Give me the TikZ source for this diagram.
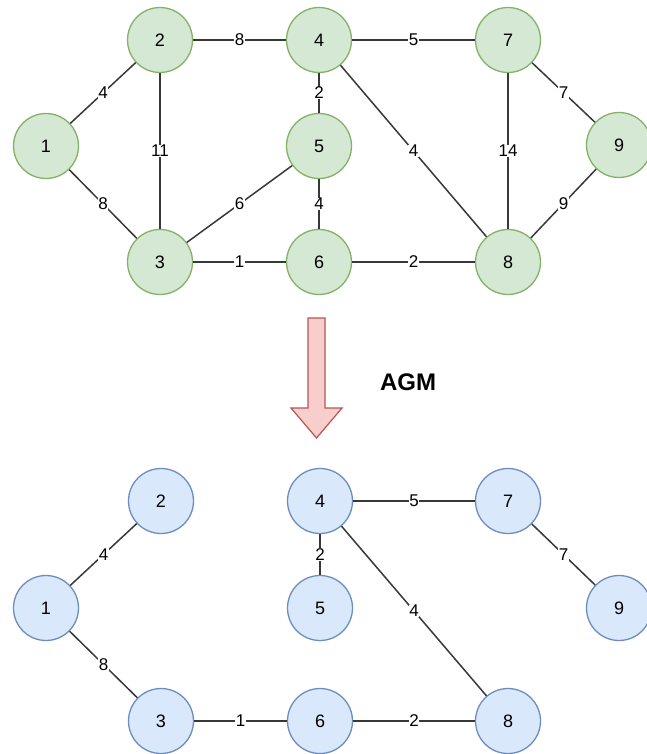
\documentclass[tikz,border=0pt]{standalone}
\usepackage{fontspec}
\setmainfont{Liberation Sans}
\definecolor{greenfill}{HTML}{D5E8D4}
\definecolor{greenline}{HTML}{82B366}
\definecolor{bluefill}{HTML}{DAE8FC}
\definecolor{blueline}{HTML}{6C8EBF}
\definecolor{redfill}{HTML}{F8CECC}
\definecolor{redline}{HTML}{B85450}
\begin{document}
\begin{tikzpicture}
  [x=1pt,y=-1pt,
   every node/.style={circle,minimum size=65pt,inner sep=0pt,line width=1.3pt,font=\fontsize{18}{20}\selectfont},
   gnode/.style={fill=greenfill,draw=greenline},
   bnode/.style={fill=bluefill,draw=blueline},
   wt/.style={rectangle,minimum size=0pt,inner sep=0.5pt,fill=white,font=\fontsize{17}{18}\selectfont}]
  \useasboundingbox (0,0) rectangle (646,754);
  % full graph
  \node[gnode] (n1) at (46,146) {1};
  \node[gnode] (n2) at (160,40) {2};
  \node[gnode] (n3) at (160,262) {3};
  \node[gnode] (n4) at (319,40) {4};
  \node[gnode] (n5) at (319,146) {5};
  \node[gnode] (n6) at (319,262) {6};
  \node[gnode] (n7) at (508,40) {7};
  \node[gnode] (n8) at (508,262) {8};
  \node[gnode] (n9) at (619,145) {9};
 \path[-,draw=black!78,line width=1.5pt]
    (n1) edge node[wt] {4} (n2)
    (n1) edge node[wt] {8} (n3)
    (n2) edge node[wt] {8} (n4)
    (n2) edge node[wt] {11} (n3)
    (n3) edge node[wt] {6} (n5)
    (n3) edge node[wt] {1} (n6)
    (n4) edge node[wt] {2} (n5)
    (n5) edge node[wt] {4} (n6)
    (n4) edge node[wt] {5} (n7)
    (n4) edge node[wt] {4} (n8)
    (n6) edge node[wt] {2} (n8)
    (n7) edge node[wt] {14} (n8)
    (n7) edge node[wt] {7} (n9)
    (n8) edge node[wt] {9} (n9)
    ;

  % block arrow
  \draw[fill=redfill,draw=redline,line width=1.2pt]
    (308,318) -- (325,318) -- (325,408) -- (342,408) -- (316.5,438)
    -- (291,408) -- (308,408) -- cycle;
  \node[rectangle,minimum size=0pt,font=\fontsize{24}{26}\selectfont\bfseries] (agm) at (408,382) {AGM};

  % spanning tree
  \node[bnode] (m1) at (46,608) {1};
  \node[bnode] (m2) at (161,501) {2};
  \node[bnode] (m3) at (161,721) {3};
  \node[bnode] (m4) at (320,501) {4};
  \node[bnode] (m5) at (320,608) {5};
  \node[bnode] (m6) at (320,721) {6};
  \node[bnode] (m7) at (508,501) {7};
  \node[bnode] (m8) at (508,721) {8};
  \node[bnode] (m9) at (619,608) {9};
 \path[-,draw=black!78,line width=1.5pt]
    (m1) edge node[wt] {4} (m2)
    (m1) edge node[wt] {8} (m3)
    (m3) edge node[wt] {1} (m6)
    (m6) edge node[wt] {2} (m8)
    (m4) edge node[wt] {2} (m5)
    (m4) edge node[wt] {5} (m7)
    (m4) edge node[wt] {4} (m8)
    (m7) edge node[wt] {7} (m9)
    ;
\end{tikzpicture}
\end{document}
